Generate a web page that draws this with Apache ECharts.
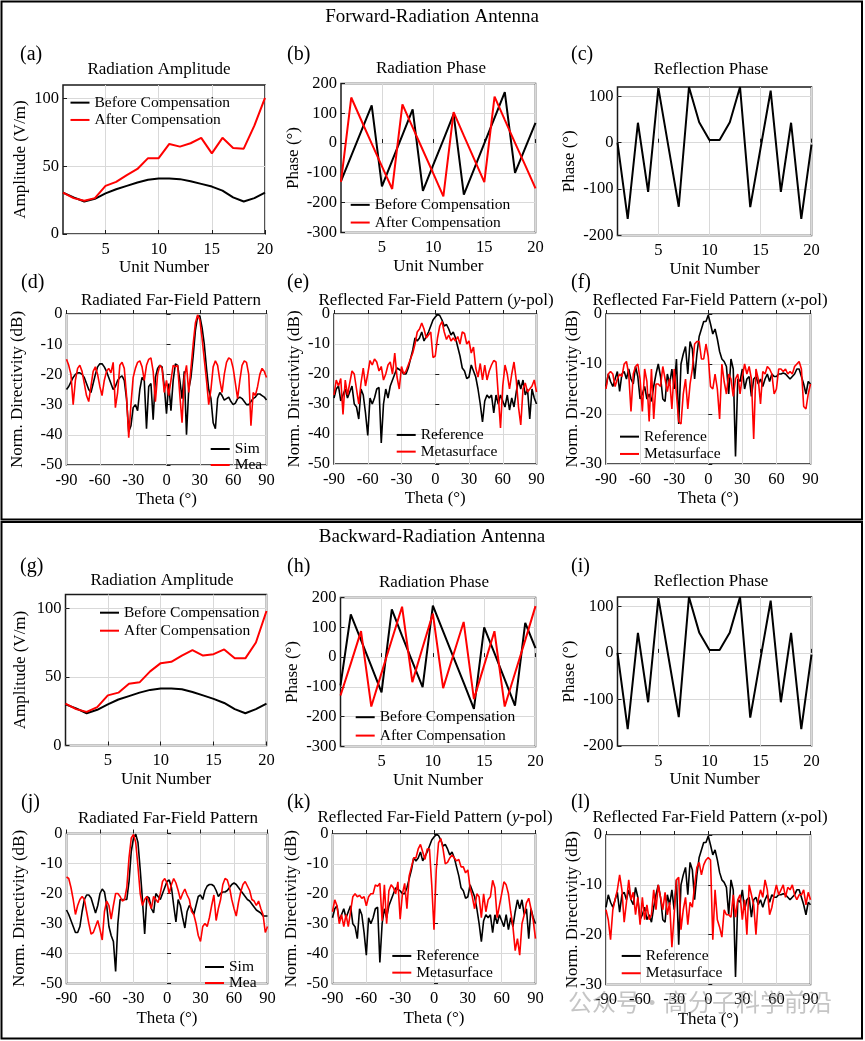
<!DOCTYPE html>
<html>
<head>
<meta charset="utf-8">
<script src="https://cdn.jsdelivr.net/npm/echarts@6/dist/echarts.min.js"></script>
<style>
html,body{margin:0;padding:0;background:#fff;}
#chart{width:865px;height:1041px;}
</style>
</head>
<body>
<div id="chart"></div>
<script>
// ---------------- DATA ----------------
const unitNumbers = [1,2,3,4,5,6,7,8,9,10,11,12,13,14,15,16,17,18,19,20];
const unitTicks = [5,10,15,20];
const ampTicks = [0,50,100];
const reflTicks = [-200,-100,0,100];

// Forward-radiation antenna
const ampBeforeFwd = [30.5,27,24,26,30,33,35.5,38,40,41,41,40.5,39,37,35,32,27,24,26.5,30.5];
const ampAfterFwd  = [30.5,26.5,24.5,26.5,35.5,38.5,43.5,48,56,56,66.5,64.5,67,71,59.5,71,63.5,63,80,100.5];
const phaseBeforeFwd = [-128,-43,42,127,-145,-59,27,113,-160,-74,11,97,-173,-87,-1,85,171,-100,-16,68];
const phaseAfterFwd  = [-130,153,75,-2,-78,-154,130,53,-24,-101,-179,104,25,-53,-131,156,78,1,-75,-152];
const reflPhaseFwd = [0,-164,43,-106,118,-10,-138,120,44,6,6,44,120,-139,-13,112,-106,43,-164,-4];

// Backward-radiation antenna
const ampBeforeBwd = [30,27,23.5,26,30,33.5,36,38.5,40.5,41.5,41.5,41,39,36.5,34,31,26.5,23.5,26.5,30.5];
const ampAfterBwd  = [30.5,26.5,24.5,28,36.5,38.5,45,46,54,60,61,65.5,69.5,65.5,66.5,70,63.5,63.5,75,98];
const phaseBeforeBwd = [-95,143,57,-30,-118,160,71,-15,-101,173,86,0,-86,-174,100,13,-75,-163,115,30];
const phaseAfterBwd  = [-129,-22,87,-166,-53,58,169,-84,32,146,-104,8,118,-141,-27,87,-166,-54,57,171];
const reflPhaseBwd = [0,-164,43,-106,118,-10,-138,120,44,6,6,44,120,-139,-13,112,-106,43,-164,-4];

// Far-field angle samples (degrees)
const thetaDeg = [-90,-88,-86,-84,-82,-80,-78,-76,-74,-72,
  -70,-68,-66,-64,-62,-60,-58,-56,-54,-52,
  -50,-48,-46,-44,-42,-40,-38,-36,-34,-32,
  -30,-28,-26,-24,-22,-20,-18,-16,-14,-12,
  -10,-8,-6,-4,-2,0,2,4,6,8,
  10,12,14,16,18,20,22,24,26,28,
  30,32,34,36,38,40,42,44,46,48,
  50,52,54,56,58,60,62,64,66,68,
  70,72,74,76,78,80,82,84,86,88,
  90];
const thetaTicks = [-90,-60,-30,0,30,60,90];

// (d) radiated pattern, forward
const simFwd = [-25,-24,-22.5,-21,-20,-19.5,-19.5,-20,-21,-23,
  -25,-26,-23,-20,-17.5,-16.5,-16.5,-17.5,-19,-21,
  -23,-25,-24,-22,-21,-20.5,-22,-28,-39,-37,
  -31,-30,-32,-25,-21,-22,-38,-24,-23,-35,
  -21,-18,-17,-17.5,-24,-33,-23,-32,-22,-16.5,
  -17,-22,-28,-19,-40,-25,-21,-14,-5.5,-0.8,
  -0.6,-4.5,-10,-18,-25,-28,-36,-38,-28,-26,
  -27,-28.5,-28,-27.5,-29,-30,-29.5,-28,-27.5,-28,
  -29,-30,-30,-29,-28,-27.5,-26.5,-26.5,-27,-27.5,
  -28.5];
const meaFwd = [-15,-17,-20,-30,-22,-18,-17,-19,-23,-27,
  -29,-24,-19,-17.5,-20,-24,-27,-22,-19,-18,
  -19.5,-16,-31,-26,-17,-16,-18,-27,-41,-30,
  -21,-18,-16,-15.5,-17.5,-22,-17,-15,-14.5,-19,
  -29,-20,-17,-18,-26,-22,-27,-22,-17,-17.5,
  -17,-27,-36,-21,-17,-26,-18,-10,-3,-0.3,
  -2,-8,-15,-22,-30,-25,-17.5,-15.5,-17,-22,
  -26,-20,-16,-14.5,-15,-18,-23,-28,-22,-17,
  -15.5,-16,-20,-37,-26,-27,-24,-20,-18,-19,
  -21];

// (e) reflected y-pol, forward
const refYFwd = [-28,-25,-24,-29,-27,-25,-28,-26,-24,-30,
  -31,-35,-25,-27,-33,-40.5,-28,-30,-28,-25,
  -24.5,-43,-30,-25,-28,-24,-22,-20,-18,-18.5,
  -19,-20,-20,-18,-15,-12,-8,-9,-8,-6,
  -9,-7.5,-6,-4,-2,-1,-0.2,-0.5,-2,-4,
  -3.5,-5,-7,-6,-8,-11,-14,-18,-19,-21.5,
  -21,-17,-19,-21,-25,-30,-36,-29,-27,-28,
  -27,-33,-27,-30,-27,-29,-31,-27,-32,-28,
  -31,-26,-22,-25,-22,-27,-25,-35,-25,-28,
  -30];
const metaYFwd = [-27,-22,-24,-21.5,-33.5,-22,-27,-23,-19,-20,
  -25,-30,-23,-18,-24,-20,-15.5,-17,-15,-16,
  -19,-17.5,-22,-20,-17,-16,-20,-13,-21,-25,
  -17.5,-20,-19,-17,-15,-13,-10,-6,-5,-3,
  -5,-8,-7,-6,-14.5,-14,-8,-4,-2.5,-6,
  -8.5,-7,-9,-8,-9,-7.5,-10,-6,-6.5,-10,
  -9,-13,-11,-18,-21,-16.5,-22,-17,-22,-19,
  -17,-15.5,-16,-27,-38,-24,-17,-20,-25,-20,
  -16,-22,-31,-37,-25,-23,-26,-25,-24,-22,
  -26];

// (f) reflected x-pol, forward
const refXFwd = [-14.5,-12,-13.5,-14.5,-13,-11.5,-15.5,-12,-11.5,-13,
  -11,-13,-14,-10.5,-12.5,-17,-16,-14.5,-17,-16,
  -17.5,-14.5,-12,-10,-12.5,-17,-17.5,-12,-14,-11,
  -15,-9,-22,-10,-8,-6.5,-12,-5.5,-7,-13,
  -8,-4.5,-3,-1.5,-1.5,-0.2,-2,-4,-3,-5,
  -7.5,-9,-9.5,-10.5,-16,-9,-11,-28.5,-13,-13.5,
  -11,-15,-13,-12.5,-16.5,-13,-12.5,-14,-13,-14.5,
  -13,-12,-13.5,-12,-12.5,-12.5,-12,-12,-11.8,-12,
  -12.5,-13,-12.5,-12,-11,-11,-12.5,-14,-16,-13.5,
  -14];
const metaXFwd = [-15,-12,-11.5,-12,-14.5,-13,-12,-12.5,-10,-9.5,
  -12,-19.5,-12,-10.5,-10,-13,-19.5,-11,-13.5,-21.5,
  -11,-21,-14,-14,-14.5,-10.5,-13,-15.5,-13,-19,
  -11,-16,-21.5,-22,-16,-13,-19,-14,-11,-6,
  -5.5,-5.5,-9,-9,-6,-8.5,-14.5,-15,-12,-15,
  -21,-10,-13.5,-16,-12,-13,-16.5,-13,-12,-16,
  -12.5,-10,-12,-10.5,-13,-25,-11,-13,-18,-11.5,
  -12,-10.5,-11,-12,-16,-15,-11,-11,-11.5,-11,
  -12,-11.5,-12,-10.5,-10,-9.5,-11,-18.5,-19,-16,
  -14];

// (j) radiated pattern, backward
const simBwd = [-25.5,-27,-29,-31,-33,-33,-31,-26,-22,-20.5,
  -20.5,-21.5,-24,-26.5,-24,-20,-18.5,-19.5,-24,-31,
  -34,-36,-46,-30,-22,-22,-22,-22,-16,-6,
  -1.5,-0.2,-3,-12,-22,-33.5,-21,-21.5,-25,-26.5,
  -20,-21,-22,-20,-18,-16,-15.5,-18,-24,-29.5,
  -22,-24,-28,-31.5,-26,-24,-25,-27,-24,-21,
  -20.5,-22,-19,-17.5,-17,-17,-17.5,-19,-21,-20,
  -19.5,-19.5,-19,-18,-17,-16.5,-17,-18,-19,-20,
  -21,-22,-22.5,-23.5,-24.5,-25.5,-26,-26.5,-27.5,-27.5,
  -27.5];
const meaBwd = [-14.5,-15,-18,-22,-27,-24,-22,-21,-22,-26,
  -30,-33.5,-33,-31,-29,-32,-35.5,-26,-22.5,-24,
  -28.5,-24,-20,-20,-21,-22.5,-22,-18,-8,-1.5,
  -0.3,-3,-11,-20,-24,-22,-21,-23,-25,-21,
  -22,-23,-20,-16,-15,-16.5,-20,-17,-15,-16.5,
  -19,-22,-20,-18.5,-20.5,-22,-26,-27,-30,-34,
  -36,-31,-30,-31,-28,-24,-20.5,-29,-25,-22,
  -17,-15,-15.5,-18,-22,-25,-27.5,-23,-19.5,-17,
  -16,-17.5,-19,-22,-22.5,-24,-22.5,-25,-27,-33,
  -31];

// (k) reflected y-pol, backward (reference antenna is the same measurement as (e))
const refYBwd = refYFwd;
const metaYBwd = [-26,-22,-24,-30,-27,-31,-27,-31,-26,-21,
  -20,-21,-20.5,-21.5,-21,-24,-21,-20,-20,-17,
  -17.5,-16.5,-29,-17,-30,-19,-17,-18,-20,-16,
  -28.5,-20,-16.5,-25,-14,-11,-8,-8,-5,-3.5,
  -6,-8.5,-5,-5,-17,-32,-12,-3,-1.5,-5,
  -10,-9.5,-8,-7,-8,-9,-8.5,-11,-11,-13,
  -12,-18,-21,-25,-20,-21,-28,-20,-26,-22,
  -21,-15.5,-18,-28,-24,-20,-16,-17,-20,-26,
  -31,-39,-35,-40.5,-30,-27,-23,-21.5,-25,-29,
  -35];

// (l) reflected x-pol, backward (reference antenna is the same measurement as (f))
const refXBwd = refXFwd;
const metaXBwd = [-15,-17,-21,-15,-13,-11,-8,-11,-17.5,-13.5,
  -9,-13,-11.5,-16,-12.5,-18,-12.5,-17,-14,-17,
  -16,-11,-15,-10,-12.5,-15,-11.5,-16,-13.5,-22.5,
  -16,-9,-8.5,-19,-15,-12.5,-18,-13.5,-14.5,-10,
  -6.5,-5.5,-8,-6,-5,-4.5,-5,-21,-11,-17,
  -18.5,-20.5,-15,-16,-16,-16.5,-12,-16.5,-13,-12,
  -17,-13,-20,-10,-12,-14,-20,-13,-11,-12.5,
  -9,-11,-16,-14.5,-12,-10,-12,-11,-10,-12.5,
  -10.5,-11,-10,-12,-13,-12,-12,-11,-14,-11.5,
  -13];

// ---------------- CHART ----------------
const FONT = "'Liberation Serif','Times New Roman',serif";
const BLACK = '#000000', RED = '#ff0000';
const pairs = (xs, ys) => xs.map((x, i) => [x, ys[i]]);

const grids = [
  {left:63,   top:85,    width:202,   height:149},   // a
  {left:341,  top:83.5,  width:194.5, height:149},   // b
  {left:617.5,top:87,    width:194,   height:148.5}, // c
  {left:66.5, top:314,   width:200,   height:151},   // d
  {left:334,  top:314,   width:202.5, height:150},   // e
  {left:606,  top:314,   width:204.5, height:150},   // f
  {left:65.5, top:594.5, width:201,   height:151},   // g
  {left:340.5,top:597.5, width:195,   height:149},   // h
  {left:617.5,top:597,   width:194,   height:149},   // i
  {left:66.5, top:833.5, width:201,   height:150},   // j
  {left:332.5,top:834,   width:203,   height:149.5}, // k
  {left:606,  top:835,   width:204.5, height:149.5}  // l
].map(g => Object.assign({show:true, borderColor:'#1a1a1a', borderWidth:1.5, containLabel:false, outerBoundsMode:'none'}, g));

const labelStyle = {color:'#000', fontFamily:FONT, fontSize:16.5};
const nameStyle = {color:'#000', fontFamily:FONT, fontSize:17};
function baseAxis(gi) {
  return {
    gridIndex: gi,
    type: 'value',
    axisLine: {show:false},
    axisTick: {show:true, inside:true, length:4, lineStyle:{color:'#1a1a1a', width:1}},
    splitLine: {show:true, lineStyle:{color:'#d9d9d9', width:1}},
    nameLocation: 'middle',
    nameTextStyle: nameStyle,
    nameMoveOverlap: false
  };
}
function unitX(gi) {
  const a = baseAxis(gi);
  return Object.assign(a, {
    min:1, max:20, name:'Unit Number', nameGap:25.5,
    axisTick: Object.assign({}, a.axisTick, {customValues: unitTicks}),
    axisLabel: Object.assign({}, labelStyle, {margin:7, customValues: unitTicks})
  });
}
function thetaX(gi) {
  const a = baseAxis(gi);
  return Object.assign(a, {
    min:-90, max:90, interval:30, name:'Theta (°)', nameGap:26.5,
    axisLabel: Object.assign({}, labelStyle, {margin:7})
  });
}
function yAxisOf(gi, opts) {
  const a = baseAxis(gi);
  const o = Object.assign(a, {
    min: opts.min, max: opts.max, name: opts.name, nameGap: opts.gap,
    axisLabel: Object.assign({}, labelStyle, {margin:4})
  });
  if (opts.interval) o.interval = opts.interval;
  if (opts.ticks) {
    o.axisTick = Object.assign({}, a.axisTick, {customValues: opts.ticks});
    o.axisLabel.customValues = opts.ticks;
  }
  return o;
}

const xAxes = [unitX(0), unitX(1), unitX(2), thetaX(3), thetaX(4), thetaX(5),
               unitX(6), unitX(7), unitX(8), thetaX(9), thetaX(10), thetaX(11)];
const yAxes = [
  yAxisOf(0, {min:0, max:110, ticks:ampTicks, name:'Amplitude (V/m)', gap:34}),
  yAxisOf(1, {min:-300, max:200, interval:100, name:'Phase (°)', gap:39}),
  yAxisOf(2, {min:-200, max:120, ticks:reflTicks, name:'Phase (°)', gap:39.5}),
  yAxisOf(3, {min:-50, max:0, interval:10, name:'Norm. Directivity (dB)', gap:40}),
  yAxisOf(4, {min:-50, max:0, interval:10, name:'Norm. Directivity (dB)', gap:31}),
  yAxisOf(5, {min:-30, max:0, interval:10, name:'Norm. Directivity (dB)', gap:25}),
  yAxisOf(6, {min:0, max:110, ticks:ampTicks, name:'Amplitude (V/m)', gap:36.5}),
  yAxisOf(7, {min:-300, max:200, interval:100, name:'Phase (°)', gap:39}),
  yAxisOf(8, {min:-200, max:120, ticks:reflTicks, name:'Phase (°)', gap:39.5}),
  yAxisOf(9, {min:-50, max:0, interval:10, name:'Norm. Directivity (dB)', gap:38}),
  yAxisOf(10, {min:-50, max:0, interval:10, name:'Norm. Directivity (dB)', gap:32}),
  yAxisOf(11, {min:-30, max:0, interval:10, name:'Norm. Directivity (dB)', gap:24.5})
];

function line(gi, name, color, xs, ys, w) {
  return {
    type:'line', name: name, xAxisIndex: gi, yAxisIndex: gi,
    data: pairs(xs, ys), showSymbol:false, symbol:'none',
    lineStyle:{color: color, width: w}, itemStyle:{color: color},
    emphasis:{disabled:true}, silent:true, clip:true, z: 3
  };
}
const TW = 2, FW = 1.6;
const series = [
  line(0, 'Before Compensation', BLACK, unitNumbers, ampBeforeFwd, TW),
  line(0, 'After Compensation', RED, unitNumbers, ampAfterFwd, TW),
  line(1, 'Before Compensation', BLACK, unitNumbers, phaseBeforeFwd, TW),
  line(1, 'After Compensation', RED, unitNumbers, phaseAfterFwd, TW),
  line(2, 'Reflection', BLACK, unitNumbers, reflPhaseFwd, TW),
  line(3, 'Sim', BLACK, thetaDeg, simFwd, FW),
  line(3, 'Mea', RED, thetaDeg, meaFwd, FW),
  line(4, 'Reference', BLACK, thetaDeg, refYFwd, FW),
  line(4, 'Metasurface', RED, thetaDeg, metaYFwd, FW),
  line(5, 'Reference', BLACK, thetaDeg, refXFwd, FW),
  line(5, 'Metasurface', RED, thetaDeg, metaXFwd, FW),
  line(6, 'Before Compensation', BLACK, unitNumbers, ampBeforeBwd, TW),
  line(6, 'After Compensation', RED, unitNumbers, ampAfterBwd, TW),
  line(7, 'Before Compensation', BLACK, unitNumbers, phaseBeforeBwd, TW),
  line(7, 'After Compensation', RED, unitNumbers, phaseAfterBwd, TW),
  line(8, 'Reflection', BLACK, unitNumbers, reflPhaseBwd, TW),
  line(9, 'Sim', BLACK, thetaDeg, simBwd, FW),
  line(9, 'Mea', RED, thetaDeg, meaBwd, FW),
  line(10, 'Reference', BLACK, thetaDeg, refYBwd, FW),
  line(10, 'Metasurface', RED, thetaDeg, metaYBwd, FW),
  line(11, 'Reference', BLACK, thetaDeg, refXBwd, FW),
  line(11, 'Metasurface', RED, thetaDeg, metaXBwd, FW)
];

function legend(names, left, top, lh, iw) {
  return {
    data: names.map(n => ({name:n, icon:'rect'})),
    orient:'vertical', left:left, top:top, padding:0, itemGap:0,
    itemWidth: iw || 19, itemHeight: 2, selectedMode:false,
    textStyle:{color:'#000', fontFamily:FONT, fontSize:15.5, lineHeight:lh}
  };
}
const BC = ['Before Compensation','After Compensation'];
const SM = ['Sim','Mea'];
const RM = ['Reference','Metasurface'];
const legends = [
  legend(BC, 70.5, 94, 17.3),
  legend(BC, 350.7, 196, 17.7),
  legend(SM, 210.7, 441, 11.6),
  legend(RM, 396.7, 426.6, 16.7),
  legend(RM, 620, 428, 17.3),
  legend(BC, 100, 603.7, 18),
  legend(BC, 355.7, 708, 18.4),
  legend(SM, 205, 959, 11.7),
  legend(RM, 392.3, 947.6, 16.7),
  legend(RM, 621.7, 947.3, 17.3)
];

function ttl(text, cx, cy, size, rich) {
  const ts = {color:'#000', fontFamily:FONT, fontSize:size, fontWeight:'normal'};
  if (rich) ts.rich = rich;
  return {text:text, left:cx, top:cy - size/2 - 1, textAlign:'center', padding:0, textStyle:ts};
}
function letter(text, x, cy) {
  return {text:text, left:x, top:cy - 10.5, padding:0,
    textStyle:{color:'#000', fontFamily:FONT, fontSize:20, fontWeight:'normal'}};
}
const richPol = {
  n:{color:'#000', fontFamily:FONT, fontSize:17},
  i:{color:'#000', fontFamily:FONT, fontSize:17, fontStyle:'italic'}
};
const titles = [
  ttl('Forward-Radiation Antenna', 432, 18, 19),
  ttl('Backward-Radiation Antenna', 432, 538, 19),
  ttl('Radiation Amplitude', 159, 70.7, 17),
  ttl('Radiation Phase', 431, 69.3, 17),
  ttl('Reflection Phase', 711, 70.7, 17),
  ttl('Radiated Far-Field Pattern', 171, 301.7, 17),
  ttl('{n|Reflected Far-Field Pattern (}{i|y}{n|-pol)}', 436, 302, 17, richPol),
  ttl('{n|Reflected Far-Field Pattern (}{i|x}{n|-pol)}', 710, 302, 17, richPol),
  ttl('Radiation Amplitude', 162, 581.7, 17),
  ttl('Radiation Phase', 434, 583.3, 17),
  ttl('Reflection Phase', 711, 583, 17),
  ttl('Radiated Far-Field Pattern', 168, 820, 17),
  ttl('{n|Reflected Far-Field Pattern (}{i|y}{n|-pol)}', 435, 818.3, 17, richPol),
  ttl('{n|Reflected Far-Field Pattern (}{i|x}{n|-pol)}', 710, 818.3, 17, richPol),
  letter('(a)', 20, 55), letter('(b)', 287, 55), letter('(c)', 571, 55),
  letter('(d)', 21, 283), letter('(e)', 287, 283), letter('(f)', 571, 283),
  letter('(g)', 20, 567), letter('(h)', 287, 567), letter('(i)', 571, 567),
  letter('(j)', 21, 803), letter('(k)', 287, 803), letter('(l)', 571, 803)
];

const option = {
  animation:false,
  backgroundColor:'#ffffff',
  title: titles,
  legend: legends,
  grid: grids,
  xAxis: xAxes,
  yAxis: yAxes,
  series: series,
  graphic: [
    {type:'rect', silent:true, z:100, shape:{x:1.5, y:1.5, width:860.5, height:518}, style:{fill:'none', stroke:'#000', lineWidth:2}},
    {type:'rect', silent:true, z:100, shape:{x:1.5, y:522, width:860.5, height:516.5}, style:{fill:'none', stroke:'#000', lineWidth:2}},
    {type:'text', silent:true, z:100, left:568, top:990, style:{text:'公众号・高分子科学前沿', fontFamily:"'Noto Sans CJK SC'", fontSize:24, fill:'rgba(150,150,150,0.55)'}}
  ]
};

const chart = echarts.init(document.getElementById('chart'), null, {renderer:'canvas'});
chart.setOption(option);
</script>
</body>
</html>
